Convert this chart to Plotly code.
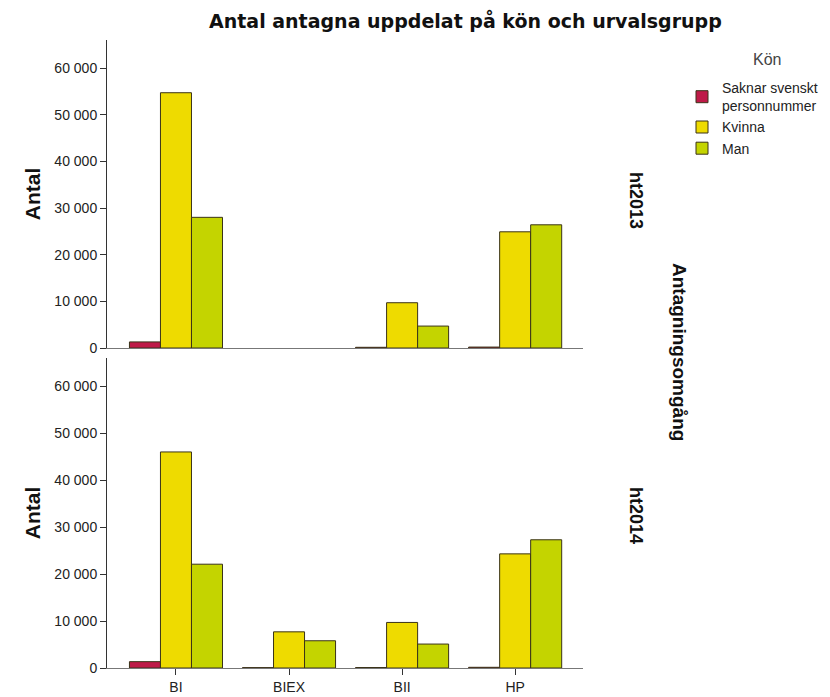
import plotly.graph_objects as go

# data
grupper = ["BI", "BIEX", "BII", "HP"]
kon = ["Saknar svenskt<br>personnummer", "Kvinna", "Man"]
farger = ["#BE1A48", "#EEDB00", "#C4D400"]

ht2013 = {
    "Saknar svenskt<br>personnummer": [1300, None, 150, 200],
    "Kvinna": [54700, None, 9700, 24900],
    "Man": [28000, None, 4700, 26400],
}
ht2014 = {
    "Saknar svenskt<br>personnummer": [1350, 80, 100, 150],
    "Kvinna": [46000, 7700, 9700, 24300],
    "Man": [22100, 5800, 5100, 27300],
}

# sidan har 8 px marginal runt figuren
OFF = 8
W, H = 830 - OFF, 697 - OFF
FONT = "Liberation Sans, Arial, sans-serif"


def fx(px):
    return (px - OFF) / W


def fy(py):
    return 1 - (py - OFF) / H


fig = go.Figure()
for k, c in zip(kon, farger):
    fig.add_trace(go.Bar(x=grupper, y=ht2013[k], name=k, marker=dict(color=c, line=dict(color="#3a3318", width=1)),
                         xaxis="x", yaxis="y", legendgroup=k, offsetgroup=k))
    fig.add_trace(go.Bar(x=grupper, y=ht2014[k], name=k, marker=dict(color=c, line=dict(color="#3a3318", width=1)),
                         xaxis="x2", yaxis="y2", legendgroup=k, offsetgroup=k, showlegend=False))

xdom = [fx(107), fx(583)]
yax = dict(range=[0, 66000], showline=True, linecolor="#333", linewidth=1, ticks="outside", ticklen=6,
           tickcolor="#333", showgrid=False, zeroline=False, tickformat=",d",
           tickfont=dict(size=14, color="#222", family=FONT))
xax = dict(range=[-0.61, 3.6], showline=True, linecolor="#777", linewidth=1, showgrid=False, domain=xdom)
ytitle = dict(text="<b>Antal</b>", font=dict(size=21, family=FONT), standoff=8)

fig.update_layout(
    width=W, height=H,
    margin=dict(l=0, r=0, t=0, b=0, autoexpand=False),
    plot_bgcolor="white", paper_bgcolor="white",
    separators=", ",
    barmode="group", bargap=0.177, bargroupgap=0,
    font=dict(family=FONT, color="#111"),
    xaxis=dict(xax, anchor="y", showticklabels=False, ticks=""),
    xaxis2=dict(xax, anchor="y2", ticks="outside", ticklen=6, tickcolor="#333",
                tickfont=dict(size=14, color="#222", family=FONT)),
    yaxis=dict(yax, domain=[fy(348), fy(40)], anchor="x", title=ytitle),
    yaxis2=dict(yax, domain=[fy(668), fy(358)], anchor="x2", title=ytitle),
    legend=dict(x=fx(682), y=fy(72), xanchor="left", yanchor="top",
                font=dict(size=14, color="#222"), itemwidth=30, tracegroupgap=0,
                bgcolor="rgba(0,0,0,0)"),
    annotations=[
        dict(text="<b>Antal antagna uppdelat på kön och urvalsgrupp</b>", x=fx(465), y=fy(21),
             xanchor="center", yanchor="middle", xref="paper", yref="paper", showarrow=False,
             font=dict(size=19, family="DejaVu Sans, Verdana, sans-serif")),
        dict(text="Kön", x=fx(767), y=fy(60), xanchor="center", yanchor="middle",
             xref="paper", yref="paper", showarrow=False, font=dict(size=16, color="#444", family=FONT)),
        dict(text="<b>ht2013</b>", x=fx(636), y=fy(200), xanchor="center", yanchor="middle",
             xref="paper", yref="paper", showarrow=False, textangle=90, font=dict(size=18, family=FONT)),
        dict(text="<b>ht2014</b>", x=fx(636), y=fy(515), xanchor="center", yanchor="middle",
             xref="paper", yref="paper", showarrow=False, textangle=90, font=dict(size=18, family=FONT)),
        dict(text="<b>Antagningsomgång</b>", x=fx(680), y=fy(352), xanchor="center", yanchor="middle",
             xref="paper", yref="paper", showarrow=False, textangle=90, font=dict(size=19, family=FONT)),
    ],
)

fig.write_html("out.html")
